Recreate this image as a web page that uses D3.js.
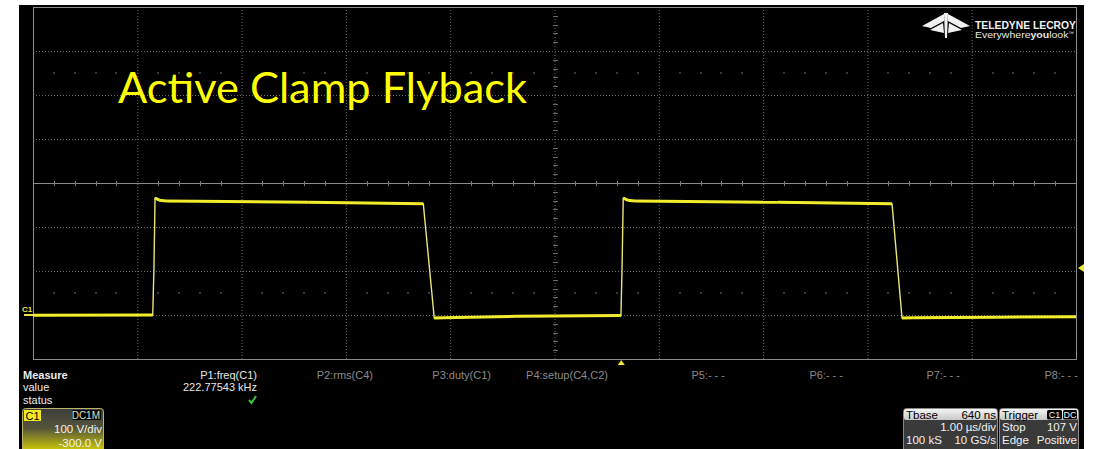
<!DOCTYPE html>
<html>
<head>
<meta charset="utf-8">
<script src="https://cdn.jsdelivr.net/npm/d3@7"></script>
<style>
  html, body { margin: 0; padding: 0; background: #fff; }
  svg { display: block; }
  .ui { font-family: "Liberation Sans", Arial, sans-serif; }
</style>
</head>
<body>
<svg id="scope" width="1094" height="449"></svg>
<script>
// ---- Channel C1 trace (time in µs relative to trigger, voltage in V) ----
const traceTimeUs = [-5.64, -4.50, -4.492, -4.480, -4.470, -4.43, -4.36, -3.00, -1.898,
                     -1.793, -1.70, -1.00, -0.003, 0.008, 0.019, 0.06, 0.13, 1.50, 2.596,
                     2.692, 2.80, 3.60, 4.36];
const traceVolts  = [-0.5, 0, 0, 110, 266, 261, 259, 256, 253,
                     -7, -6, -3, -1, 110, 266, 261, 259, 256, 253,
                     -7, -6, -5, -4];

// ---- Timebase / vertical settings ----
const timeDomainUs = [-5.64, 4.36];     // 1 µs/div, 640 ns delay
const voltDomain   = [-100, 700];       // 100 V/div, -300 V offset
const timeDivs = [0, 1, 2, 3, 4, 5, 6, 7, 8, 9, 10];
const voltDivs = [0, 1, 2, 3, 4, 5, 6, 7, 8];
const triggerLevelV = 107;
const triggerTimeUs = 0;

// ---- Measurement table ----
const measureParams = ["P1:freq(C1)", "P2:rms(C4)", "P3:duty(C1)", "P4:setup(C4,C2)",
                       "P5:- - -", "P6:- - -", "P7:- - -", "P8:- - -"];
const measureValues = ["222.77543 kHz", "", "", "", "", "", "", ""];
const measureStatus = [true, false, false, false, false, false, false, false];
const measureColumnRight = [257, 373, 491, 608, 725, 843, 960, 1078];
const measureRowLabels = ["Measure", "value", "status"];

const svg = d3.select("#scope");

// Screen frame
svg.append("rect").attr("x", 0).attr("y", 0).attr("width", 1094).attr("height", 449).attr("fill", "#fff");
svg.append("rect").attr("x", 19).attr("y", 5).attr("width", 1065).attr("height", 444).attr("fill", "#000");

const x = d3.scaleLinear().domain(timeDomainUs).range([33, 1076]);
const y = d3.scaleLinear().domain(voltDomain).range([359, 7]);
const tDiv = i => timeDomainUs[0] + i * (timeDomainUs[1] - timeDomainUs[0]) / 10;
const vDiv = i => voltDomain[0] + i * (voltDomain[1] - voltDomain[0]) / 8;

const grid = svg.append("g");
// inner dotted division lines
timeDivs.slice(1, -1).forEach(i => {
  grid.append("line").attr("x1", x(tDiv(i)) + 0.5).attr("x2", x(tDiv(i)) + 0.5)
    .attr("y1", y.range()[1]).attr("y2", y.range()[0])
    .attr("stroke", "#6a6a6a").attr("stroke-width", 1).attr("stroke-dasharray", "1,2");
});
voltDivs.slice(1, -1).forEach(i => {
  if (i === 4) return;
  grid.append("line").attr("x1", x.range()[0]).attr("x2", x.range()[1])
    .attr("y1", y(vDiv(i)) + 0.5).attr("y2", y(vDiv(i)) + 0.5)
    .attr("stroke", "#6a6a6a").attr("stroke-width", 1).attr("stroke-dasharray", "1,2");
});
// centre horizontal axis, solid with sub-division ticks
const yc = Math.round(y(vDiv(4))) + 0.5;
grid.append("line").attr("x1", x.range()[0]).attr("x2", x.range()[1])
  .attr("y1", yc).attr("y2", yc).attr("stroke", "#8a8a8a").attr("stroke-width", 1);
const subTimes = d3.range(0, 50).map(k => timeDomainUs[0] + k * 0.2).filter(t => Math.abs((t - timeDomainUs[0]) % 1) > 1e-6 && Math.abs((t - timeDomainUs[0]) % 1 - 1) > 1e-6);
subTimes.forEach(t => {
  grid.append("line").attr("x1", Math.round(x(t)) + 0.5).attr("x2", Math.round(x(t)) + 0.5)
    .attr("y1", yc - 2.5).attr("y2", yc + 2.5).attr("stroke", "#7a7a7a");
});
// centre vertical axis ticks
const xc = Math.round(x(tDiv(5))) + 0.5;
d3.range(0, 40).map(k => voltDomain[0] + k * 20).filter(v => v % 100 !== 0).forEach(v => {
  grid.append("line").attr("x1", xc - 2.5).attr("x2", xc + 2.5)
    .attr("y1", Math.round(y(v)) + 0.5).attr("y2", Math.round(y(v)) + 0.5).attr("stroke", "#6a6a6a");
});
// faint dot rows at ±2.5 divisions
[vDiv(1.5), vDiv(6.5)].forEach(v => {
  subTimes.forEach(t => {
    grid.append("rect").attr("x", Math.round(x(t)) - 1).attr("y", Math.round(y(v)) - 1)
      .attr("width", 2).attr("height", 2).attr("fill", "#3a3a3a");
  });
});
// outer border
grid.append("rect").attr("x", x.range()[0] + 0.5).attr("y", y.range()[1] + 0.5)
  .attr("width", x.range()[1] - x.range()[0]).attr("height", y.range()[0] - y.range()[1])
  .attr("fill", "none").attr("stroke", "#8c8c8c").attr("stroke-width", 1);

// Title
svg.append("text").attr("x", 118).attr("y", 103)
  .attr("font-family", "Lato, 'Open Sans', sans-serif").attr("font-size", 43)
  .attr("fill", "#ffff00").attr("textLength", 409).attr("lengthAdjust", "spacingAndGlyphs")
  .text("Active Clamp Flyback");

// Logo
const logo = svg.append("g").attr("fill", "#f2f2f2");
logo.append("path").attr("d", "M922,26 L944,14 L944,21 L931,28 Z");
logo.append("path").attr("d", "M970,26 L948,14 L948,21 L961,28 Z");
logo.append("path").attr("d", "M930,30 L943,23 L944,33 Z");
logo.append("path").attr("d", "M962,30 L949,23 L948,33 Z");
logo.append("path").attr("d", "M944,13 L948,13 L947,38 L945,38 Z");
svg.append("text").attr("class", "ui").attr("x", 975).attr("y", 29)
  .attr("font-size", 11).attr("font-weight", "bold").attr("fill", "#f2f2f2")
  .attr("textLength", 101).attr("lengthAdjust", "spacingAndGlyphs").text("TELEDYNE LECROY");
const ev = svg.append("text").attr("class", "ui").attr("x", 975).attr("y", 38)
  .attr("font-size", 9.5).attr("fill", "#e6e6e6")
  .attr("textLength", 99).attr("lengthAdjust", "spacingAndGlyphs");
ev.append("tspan").text("Everywhere");
ev.append("tspan").attr("font-weight", "bold").text("you");
ev.append("tspan").text("look");
ev.append("tspan").attr("font-size", 5).attr("dy", -3).text("™");

// Trace
const pts = traceTimeUs.map((t, i) => [x(t), y(traceVolts[i])]);
const line = d3.line();
const tr = svg.append("g").attr("fill", "none").attr("stroke-linejoin", "round");
tr.append("path").attr("d", line(pts)).attr("stroke", "#e9e47a").attr("stroke-width", 1.4);
for (let i = 0; i < pts.length - 1; i++) {
  const a = pts[i], b = pts[i + 1];
  if (Math.abs(b[1] - a[1]) < 8) {
    tr.append("path").attr("d", line([a, b])).attr("stroke", "#f1ec2c").attr("stroke-width", 3);
  }
}

// Channel ground marker
svg.append("text").attr("class", "ui").attr("x", 22).attr("y", 312)
  .attr("font-size", 8).attr("font-weight", "bold").attr("fill", "#e8e050").text("C1");
svg.append("line").attr("x1", 24).attr("x2", 33).attr("y1", y(0)).attr("y2", y(0))
  .attr("stroke", "#e8e050").attr("stroke-width", 2);

// Trigger level marker (right) and trigger position marker (bottom)
const ty = y(triggerLevelV);
svg.append("path").attr("d", `M1078,${ty} L1084,${ty - 4} L1084,${ty + 4} Z`).attr("fill", "#f0e830");
const tx = x(triggerTimeUs);
svg.append("path").attr("d", `M${tx},360 L${tx - 3.5},365 L${tx + 3.5},365 Z`).attr("fill", "#f0e830");

// Measurement table
const mt = svg.append("g").attr("class", "ui").attr("font-size", 11);
const rowY = [379, 391, 404];
measureRowLabels.forEach((s, i) => {
  mt.append("text").attr("x", 23).attr("y", rowY[i]).attr("fill", "#ececec")
    .attr("font-weight", i === 0 ? "bold" : "normal").text(s);
});
measureParams.forEach((p, i) => {
  mt.append("text").attr("x", measureColumnRight[i]).attr("y", rowY[0]).attr("text-anchor", "end")
    .attr("fill", i === 0 ? "#e6e6e6" : "#8a8a8a").text(p);
  if (measureValues[i]) {
    mt.append("text").attr("x", measureColumnRight[i]).attr("y", rowY[1]).attr("text-anchor", "end")
      .attr("fill", "#e6e6e6").text(measureValues[i]);
  }
  if (measureStatus[i]) {
    const cx = measureColumnRight[i] - 8;
    mt.append("path").attr("d", `M${cx},${rowY[2] - 4} L${cx + 2.5},${rowY[2] - 1} L${cx + 7},${rowY[2] - 8}`)
      .attr("fill", "none").attr("stroke", "#39c33a").attr("stroke-width", 2);
  }
});

// C1 descriptor box
const defs = svg.append("defs");
const g1 = defs.append("linearGradient").attr("id", "c1grad").attr("x1", 0).attr("y1", 0).attr("x2", 0).attr("y2", 1);
g1.append("stop").attr("offset", "0%").attr("stop-color", "#3c3c3c");
g1.append("stop").attr("offset", "45%").attr("stop-color", "#55553a");
g1.append("stop").attr("offset", "100%").attr("stop-color", "#d8d400");
const c1 = svg.append("g").attr("class", "ui");
c1.append("rect").attr("x", 22.5).attr("y", 408.5).attr("width", 81).attr("height", 44).attr("rx", 3)
  .attr("fill", "url(#c1grad)").attr("stroke", "#b8b46a");
c1.append("rect").attr("x", 24).attr("y", 410).attr("width", 17).attr("height", 11).attr("fill", "#f2ea20");
c1.append("text").attr("x", 25.5).attr("y", 419.5).attr("font-size", 11).attr("fill", "#000").text("C1");
c1.append("rect").attr("x", 72).attr("y", 410).attr("width", 29).attr("height", 10).attr("rx", 1.5).attr("fill", "#000");
c1.append("text").attr("x", 100).attr("y", 418.5).attr("font-size", 10).attr("text-anchor", "end").attr("fill", "#e0e0c0").text("DC1M");
c1.append("text").attr("x", 102).attr("y", 433).attr("font-size", 11.5).attr("text-anchor", "end").attr("fill", "#f2f2f2").text("100 V/div");
c1.append("text").attr("x", 102).attr("y", 447).attr("font-size", 11.5).attr("text-anchor", "end").attr("fill", "#f2f2f2").text("-300.0 V");

// Timebase and trigger descriptor boxes
const g2 = defs.append("linearGradient").attr("id", "hdr").attr("x1", 0).attr("y1", 0).attr("x2", 0).attr("y2", 1);
g2.append("stop").attr("offset", "0%").attr("stop-color", "#f4f4f4");
g2.append("stop").attr("offset", "100%").attr("stop-color", "#c8c8c8");
function descriptor(x0, w, rows) {
  const g = svg.append("g").attr("class", "ui").attr("font-size", 11.5);
  g.append("rect").attr("x", x0 + 0.5).attr("y", 408.5).attr("width", w).attr("height", 44).attr("rx", 3)
    .attr("fill", "#3a3a3a").attr("stroke", "#8a8a8a");
  g.append("rect").attr("x", x0 + 1).attr("y", 409).attr("width", w - 1).attr("height", 11).attr("rx", 2).attr("fill", "url(#hdr)");
  rows.forEach((r, i) => {
    const yy = [418.5, 431, 444][i];
    const col = i === 0 ? "#000" : "#f0f0f0";
    if (r[0]) g.append("text").attr("x", x0 + 3).attr("y", yy).attr("fill", col).text(r[0]);
    if (r[1]) g.append("text").attr("x", x0 + w - 1).attr("y", yy).attr("text-anchor", "end").attr("fill", col).text(r[1]);
  });
  return g;
}
descriptor(903, 94, [["Tbase", "640 ns"], ["", "1.00 µs/div"], ["100 kS", "10 GS/s"]]);
const trg = descriptor(999, 79, [["Trigger", ""], ["Stop", "107 V"], ["Edge", "Positive"]]);
[["C1", 1047, 15], ["DC", 1063, 14]].forEach(([s, bx, bw]) => {
  trg.append("rect").attr("x", bx).attr("y", 410).attr("width", bw).attr("height", 9.5).attr("rx", 1.5).attr("fill", "#000");
  trg.append("text").attr("x", bx + bw / 2).attr("y", 418).attr("font-size", 9).attr("text-anchor", "middle")
    .attr("fill", "#f0f0f0").text(s);
});
</script>
</body>
</html>
